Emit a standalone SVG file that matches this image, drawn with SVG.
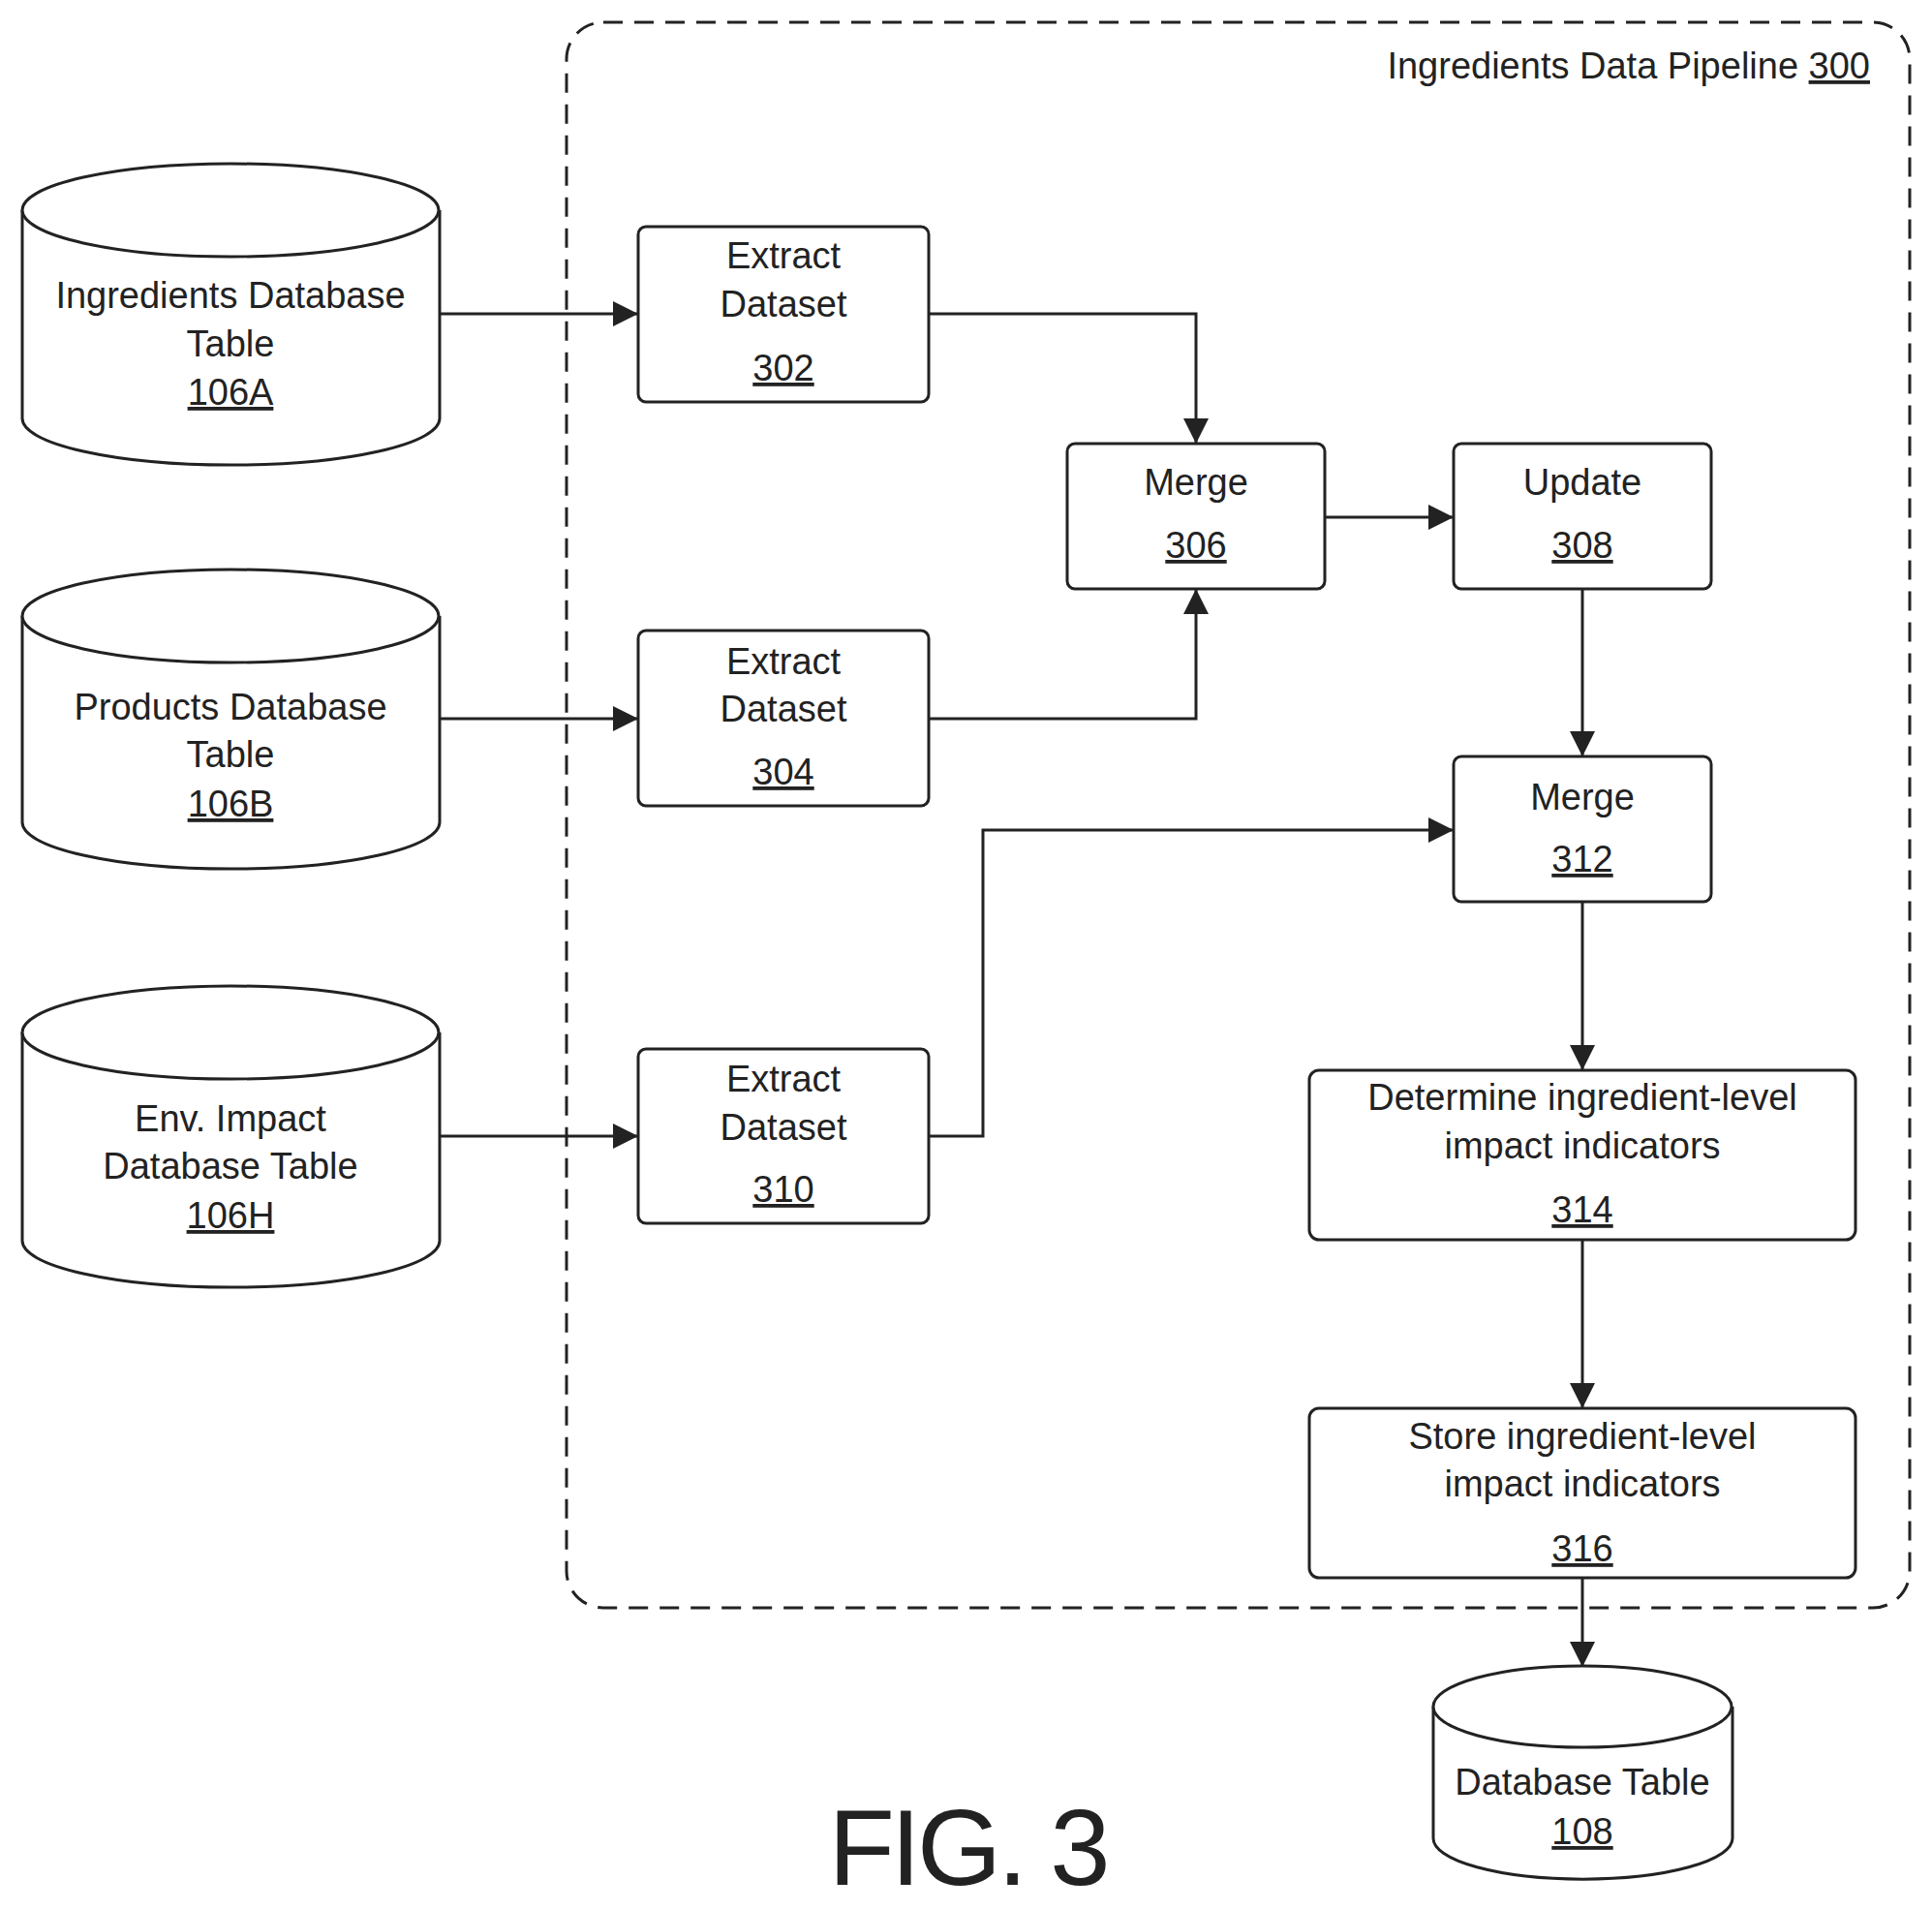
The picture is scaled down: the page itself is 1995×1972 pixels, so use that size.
<svg xmlns="http://www.w3.org/2000/svg" width="1995" height="1972" viewBox="0 0 1995 1972">
<style>
text{font-family:"Liberation Sans",Arial,sans-serif;font-size:38px;fill:#222;text-anchor:middle}
.u{text-decoration:underline}
.b{fill:#fff;stroke:#222;stroke-width:3}
.c{fill:none;stroke:#222;stroke-width:3}
</style>
<defs><marker id="a" markerWidth="12" markerHeight="12" refX="11" refY="6" orient="auto" markerUnits="userSpaceOnUse"><path d="M0,0L12,6L0,12z" fill="#222"/></marker>
<marker id="ah" viewBox="0 0 10 10" markerWidth="26" markerHeight="26" refX="10" refY="5" orient="auto" markerUnits="userSpaceOnUse"><path d="M0,0L10,5L0,10z" fill="#222"/></marker></defs>
<rect width="1995" height="1972" fill="#fff"/>
<g id="pipeline"><rect x="585" y="23" width="1387" height="1637" rx="38" fill="none" stroke="#222" stroke-width="3" stroke-dasharray="20,12"/>
<text x="1931" y="81" style="text-anchor:end">Ingredients Data Pipeline <tspan class="u">300</tspan></text></g>
<g id="connectors" class="c" marker-end="url(#ah)">
<path d="M454,324H659"/><path d="M454,742H659"/><path d="M454,1173H659"/>
<path d="M959,324H1235V458"/><path d="M959,742H1235V608"/>
<path d="M1368,534H1501"/><path d="M1634,608V781"/>
<path d="M959,1173H1015V857H1501"/>
<path d="M1634,931V1105"/><path d="M1634,1280V1454"/><path d="M1634,1629V1721"/>
</g>
<g id="db106A"><path class="b" d="M23,217V432A215,48 0 0 0 454,432V217"/><ellipse class="b" cx="238" cy="217" rx="215" ry="48"/>
<text x="238" y="318">Ingredients Database</text><text x="238" y="368">Table</text><text x="238" y="418" class="u">106A</text></g>
<g id="db106B"><path class="b" d="M23,636V849A215,48 0 0 0 454,849V636"/><ellipse class="b" cx="238" cy="636" rx="215" ry="48"/>
<text x="238" y="743">Products Database</text><text x="238" y="792">Table</text><text x="238" y="843" class="u">106B</text></g>
<g id="db106H"><path class="b" d="M23,1066V1281A215,48 0 0 0 454,1281V1066"/><ellipse class="b" cx="238" cy="1066" rx="215" ry="48"/>
<text x="238" y="1168">Env. Impact</text><text x="238" y="1217">Database Table</text><text x="238" y="1268" class="u">106H</text></g>
<g id="n302"><rect class="b" x="659" y="234" width="300" height="181" rx="8"/><text x="809" y="277">Extract</text><text x="809" y="327">Dataset</text><text x="809" y="393" class="u">302</text></g>
<g id="n304"><rect class="b" x="659" y="651" width="300" height="181" rx="8"/><text x="809" y="696">Extract</text><text x="809" y="745">Dataset</text><text x="809" y="810" class="u">304</text></g>
<g id="n310"><rect class="b" x="659" y="1083" width="300" height="180" rx="8"/><text x="809" y="1127">Extract</text><text x="809" y="1177">Dataset</text><text x="809" y="1241" class="u">310</text></g>
<g id="n306"><rect class="b" x="1102" y="458" width="266" height="150" rx="8"/><text x="1235" y="511">Merge</text><text x="1235" y="576" class="u">306</text></g>
<g id="n308"><rect class="b" x="1501" y="458" width="266" height="150" rx="8"/><text x="1634" y="511">Update</text><text x="1634" y="576" class="u">308</text></g>
<g id="n312"><rect class="b" x="1501" y="781" width="266" height="150" rx="8"/><text x="1634" y="836">Merge</text><text x="1634" y="900" class="u">312</text></g>
<g id="n314"><rect class="b" x="1352" y="1105" width="564" height="175" rx="10"/><text x="1634" y="1146">Determine ingredient-level</text><text x="1634" y="1196">impact indicators</text><text x="1634" y="1262" class="u">314</text></g>
<g id="n316"><rect class="b" x="1352" y="1454" width="564" height="175" rx="10"/><text x="1634" y="1496">Store ingredient-level</text><text x="1634" y="1545">impact indicators</text><text x="1634" y="1612" class="u">316</text></g>
<g id="db108"><path class="b" d="M1480,1762V1898A154,42 0 0 0 1789,1898V1762"/><ellipse class="b" cx="1634" cy="1762" rx="154" ry="42"/>
<text x="1634" y="1853">Database Table</text><text x="1634" y="1904" class="u">108</text></g>
<text x="999" y="1946" style="font-size:112px;letter-spacing:-4px">FIG. 3</text>
</svg>
